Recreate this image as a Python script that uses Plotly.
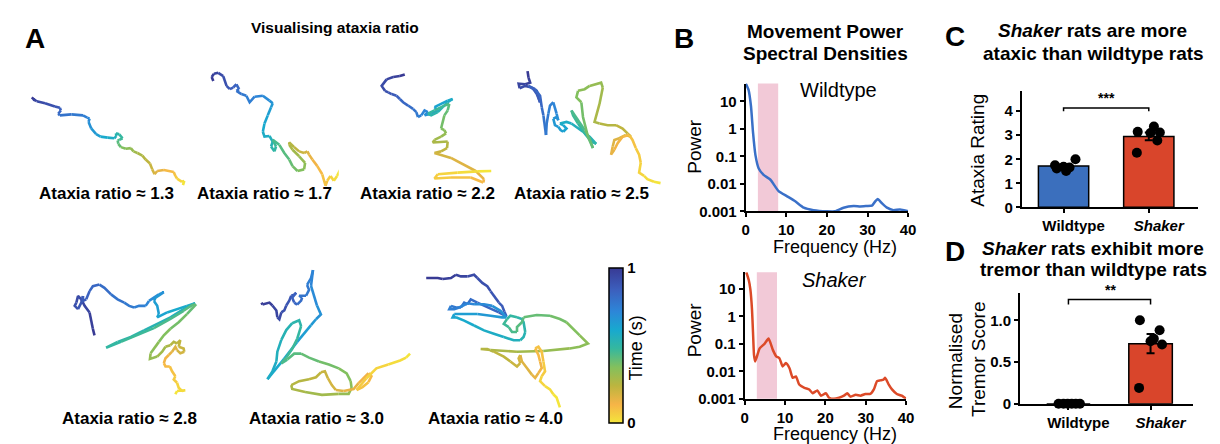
import plotly.graph_objects as go
from plotly.colors import sample_colorscale

FONT = "Liberation Sans, Arial, Helvetica, sans-serif"
W, H = 1220, 444

# ---------------- data ----------------
RATIOS = ["1.3", "1.7", "2.2", "2.5", "2.8", "3.0", "4.0"]

# trajectories (arbitrary tracking units, y grows downward)
T1 = [(60,120),(70,130),(65,125),(75,132),(100,138),(130,148),(145,152),(148,160),(140,170),(145,175),
      (180,172),(215,175),(228,182),(235,185),(232,195),(240,215),(255,232),(268,240),(290,243),(310,245),
      (316,238),(315,230),(325,233),(335,245),(325,250),(320,252),(322,262),(330,272),(345,277),(360,275),
      (368,285),(380,290),(395,298),(405,310),(418,322),(425,340),(432,355),(440,345),(460,342),(490,348),
      (495,360),(500,368),(515,378),(522,375),(518,388)]
T2 = [(610,70),(605,58),(612,48),(625,45),(640,55),(645,70),(650,85),(660,95),(670,90),(680,80),
      (688,95),(680,100),(695,110),(710,115),(720,135),(735,118),(760,115),(780,130),(790,138),(785,150),
      (775,175),(765,200),(760,225),(765,240),(780,238),(790,255),(785,270),(795,285),(800,270),(790,250),
      (810,265),(825,290),(840,310),(850,330),(865,345),(885,340),(888,320),(870,300),(850,280),(840,265),
      (840,258),(855,272),(870,285),(885,290),(895,285),(900,295),(910,310),(925,330),(940,355),(950,390),
      (955,375),(965,360),(975,375),(985,360),(995,340)]
T3 = [(200,50),(185,55),(165,58),(145,65),(130,85),(140,100),(150,105),(160,110),(175,115),(185,125),
      (195,135),(210,145),(225,155),(235,165),(240,180),(250,175),(260,160),(270,165),(260,175),(280,170),
      (300,160),(290,150),(310,140),(330,130),(345,125),(330,135),(315,150),(300,165),(280,175),(270,170),
      (290,160),(320,145),(335,140),(330,160),(320,175),(315,195),(310,215),(320,220),(325,230),(310,240),
      (290,250),(285,258),(330,255),(328,275),(310,285),(290,290),(340,305),(380,325),(415,345),(440,370),
      (438,380),(400,365),(340,365),(290,368),(300,355),(360,350),(420,346),(462,345)]
T4 = [(572,40),(575,60),(580,75),(565,80),(545,78),(548,92),(565,85),(585,90),(600,100),(605,120),
      (610,135),(600,110),(590,95),(575,85),(595,95),(610,115),(615,150),(620,175),(625,210),(628,235),
      (630,200),(635,170),(640,145),(650,135),(655,150),(660,170),(665,190),(660,180),(650,185),(655,205),
      (665,210),(672,220),(680,225),(690,215),(680,205),(670,200),(690,195),(705,200),(720,210),(740,225),
      (760,240),(780,262),(765,255),(745,230),(725,200),(710,175),(705,160),(725,190),(745,220),(760,245),
      (770,275),(755,240),(740,180),(735,135),(720,120),(725,100),(745,95),(760,85),(795,75),(800,90),
      (790,140),(775,195),(790,200),(815,205),(840,205),(860,215),(875,230),(885,240),(870,235),(850,245),
      (835,250),(830,270),(825,295),(835,280),(845,260),(860,240),(880,235),(890,250),(900,275),(910,295),
      (915,320),(910,350),(925,360),(935,370),(955,378),(975,382)]
T5 = [(250,250),(245,230),(240,200),(235,180),(220,160),(210,140),(200,130),(195,150),(190,160),(200,170),
      (210,150),(215,130),(215,145),(225,140),(235,115),(245,100),(265,95),(280,105),(300,125),(320,140),
      (340,150),(355,160),(370,165),(385,160),(405,160),(415,145),(430,135),(445,125),(460,118),(450,125),
      (435,135),(430,145),(440,160),(445,185),(440,195),(470,180),(500,170),(530,160),(555,152),(520,170),
      (480,195),(440,215),(400,235),(360,255),(320,270),(285,288),(330,270),(380,250),(430,228),(480,200),
      (520,175),(550,155),(555,158),(530,185),(505,210),(480,230),(460,250),(445,270),(430,290),(420,305),
      (418,322),(440,315),(455,300),(465,285),(480,280),(490,270),(500,275),(510,265),(505,285),(520,290),
      (522,300),(510,305),(500,295),(495,285),(485,300),(475,310),(465,320),(460,335),(465,345),(478,345),
      (485,360),(495,375),(490,385),(500,395),(505,410),(515,420),(525,418),(500,420),(495,430)]
T6 = [(12,45),(13,47),(20,45),(23,48),(27,53),(28,60),(30,62),(32,55),(35,53),(37,48),
      (40,43),(42,38),(45,37),(47,35),(43,40),(45,45),(48,47),(52,43),(53,40),(50,38),
      (57,38),(60,32),(58,27),(62,20),(64,12),(63,20),(62,28),(65,38),(68,48),(72,57),
      (67,62),(62,68),(55,77),(48,85),(42,93),(35,102),(27,112),(18,123),(23,115),(27,105),
      (28,95),(32,83),(37,73),(43,66),(50,63),(52,69),(48,82),(43,92),(37,101),(32,107),
      (38,103),(45,97),(52,97),(60,101),(70,105),(80,108),(90,112),(98,117),(102,125),(103,132),
      (100,138),(90,138),(73,139),(56,136),(43,133),(42,129),(50,125),(60,123),(67,121),(72,116),
      (76,115),(79,122),(83,129),(87,134),(95,135),(105,133),(110,127),(115,122),(120,117),(123,120),
      (120,126),(114,131),(108,134),(112,129),(118,122),(128,112),(140,108),(152,104),(158,101),(162,97)]
T7 = [(25,75),(60,75),(75,78),(100,75),(115,65),(130,70),(150,70),(170,65),(180,75),(195,90),
      (210,100),(220,115),(235,135),(245,150),(255,160),(262,178),(268,192),(245,180),(225,170),(200,160),
      (180,150),(160,140),(150,155),(140,150),(130,165),(115,165),(100,160),(95,170),(110,170),(125,165),
      (150,152),(170,155),(200,155),(225,160),(250,175),(268,195),(255,195),(220,190),(180,185),(140,185),
      (110,185),(105,195),(115,195),(140,205),(170,220),(200,235),(230,245),(260,255),(290,265),(310,265),
      (320,255),(325,240),(320,210),(315,200),(300,195),(280,190),(270,200),(260,215),(275,225),(285,240),
      (300,240),(300,225),(315,210),(320,195),(360,188),(400,190),(430,200),(450,210),(470,230),(490,250),
      (515,275),(490,285),(460,290),(420,295),(380,298),(340,300),(300,300),(260,298),(220,295),(190,292),
      (210,292),(230,300),(260,315),(280,330),(300,345),(310,335),(305,320),(310,310),(315,330),(330,350),
      (345,370),(355,380),(365,365),(375,350),(370,330),(365,310),(355,290),(365,285),(375,300),(380,330),
      (385,360),(375,375),(370,390),(385,405),(400,415),(410,430),(420,440),(430,470)]

# power spectral densities
WT_FREQ = [0, 0.7, 1.3, 1.8, 2.4, 3.2, 4.4, 6.1, 8.1, 10.2, 12.2, 14.3, 16.7, 20.0, 22.0, 24.1, 26.6,
           28.2, 29.8, 31.1, 31.9, 32.5, 33.5, 34.8, 36.4, 38.0, 40]
WT_POWER = [45, 26, 6.6, 0.74, 0.11, 0.036, 0.021, 0.014, 0.0054, 0.0035, 0.0023, 0.00135, 0.0011,
            0.001, 0.001, 0.00135, 0.00155, 0.0015, 0.00155, 0.0016, 0.0023, 0.0028, 0.002, 0.00135,
            0.0011, 0.00117, 0.001]
SH_FREQ = [0.4, 1.0, 1.4, 1.8, 2.05, 2.3, 2.6, 3.7, 4.9, 5.9, 7.0, 7.8, 8.6, 9.4, 10.2, 11.1, 11.9, 12.7,
           13.5, 14.8, 16.0, 16.8, 18.0, 18.9, 20.1, 20.9, 22.1, 23.4, 24.6, 25.4, 26.2, 27.5, 28.7, 29.9,
           31.1, 32.0, 32.8, 33.6, 34.4, 34.8, 35.7, 36.5, 37.7, 38.9, 40]
SH_POWER = [40, 21, 9.5, 1.8, 0.27, 0.04, 0.023, 0.068, 0.1, 0.155, 0.059, 0.035, 0.03, 0.015, 0.02,
            0.013, 0.0058, 0.0065, 0.0033, 0.0025, 0.0022, 0.0016, 0.002, 0.0013, 0.0016, 0.0011, 0.001,
            0.0011, 0.0013, 0.0016, 0.0012, 0.0014, 0.0013, 0.0015, 0.0015, 0.0022, 0.0044, 0.0047, 0.005,
            0.0058, 0.0033, 0.0022, 0.0015, 0.0013, 0.001]
TREMOR_BAND = [3, 8]

GROUPS = ["Wildtype", "<i>Shaker</i>"]
ATAXIA_WT = [1.75, 1.62, 1.69, 1.51, 1.66, 2.0]
ATAXIA_SH = [3.14, 2.27, 3.09, 3.36, 3.11, 2.78]
ATAXIA_MEAN = [1.72, 2.95]
ATAXIA_SEM = [0.07, 0.16]
TREMOR_WT = [0, 0, 0, 0, 0, 0]
TREMOR_SH = [1.0, 0.88, 0.78, 0.75, 0.71, 0.19]
TREMOR_MEAN = [0.0, 0.72]
TREMOR_SEM = [0.0, 0.115]

# ---------------- styles / layout helpers ----------------
JIT_C_WT = [-0.10, -0.08, 0.0, 0.03, 0.07, 0.14]
JIT_C_SH = [-0.13, -0.14, 0.02, 0.06, 0.13, 0.10]
JIT_D_WT = [-0.12, -0.06, -0.01, 0.04, 0.09, 0.14]
JIT_D_SH = [-0.13, 0.11, 0.04, 0.0, 0.14, -0.14]

BLUE = "#3b6fbd"
RED = "#d9452b"
LINE_BLUE = "#3a70c8"
LINE_RED = "#dc4a28"
PINK = "#f2c9d7"

CSCALE = [[0.0, "#f4e53b"], [0.12, "#f6b447"], [0.24, "#bcb53f"], [0.36, "#83c05d"],
          [0.48, "#35b89e"], [0.60, "#18a9cf"], [0.72, "#2d86d8"], [0.86, "#3c5fbd"],
          [1.0, "#383a94"]]


def X(px):
    return px / W


def Y(py):
    return 1 - py / H


fig = go.Figure()
layout = dict(width=W, height=H, margin=dict(l=0, r=0, t=0, b=0), paper_bgcolor="white",
              plot_bgcolor="white", showlegend=False, font=dict(family=FONT, color="black"))

axis_common = dict(showline=True, linecolor="black", linewidth=2, ticks="outside", ticklen=4,
                   tickwidth=2, tickcolor="black", showgrid=False, zeroline=False, fixedrange=True,
                   tickfont=dict(family=FONT, size=15, color="black"))

bx = [f"<b>{v}</b>" for v in ["0", "10", "20", "30", "40"]]
byv = [0.001, 0.01, 0.1, 1, 10]
byt = [f"<b>{v}</b>" for v in ["0.001", "0.01", "0.1", "1", "10"]]

# B top / bottom
layout["xaxis"] = dict(axis_common, domain=[X(741), X(905)], range=[0, 40], tickvals=[0, 10, 20, 30, 40],
                       ticktext=bx, anchor="y")
layout["yaxis"] = dict(axis_common, domain=[Y(207), Y(77)], type="log", range=[-3, 1.643], tickvals=byv,
                       ticktext=byt, anchor="x")
layout["xaxis2"] = dict(axis_common, domain=[X(740), X(903)], range=[0, 40], tickvals=[0, 10, 20, 30, 40],
                        ticktext=bx, anchor="y2")
layout["yaxis2"] = dict(axis_common, domain=[Y(398), Y(269)], type="log", range=[-3, 1.607], tickvals=byv,
                        ticktext=byt, anchor="x2")
# C
layout["xaxis3"] = dict(axis_common, domain=[X(1020), X(1198)], range=[-0.488, 1.58], tickvals=[0, 1],
                        ticktext=[f"<b>{g}</b>" for g in GROUPS], anchor="y3",
                        ticklabelshift=10)
layout["yaxis3"] = dict(axis_common, domain=[Y(203), Y(85)], range=[0, 4.82], tickvals=[0, 1, 2, 3, 4],
                        ticktext=[f"<b>{v}</b>" for v in range(5)], anchor="x3")
# D
layout["xaxis4"] = dict(axis_common, domain=[X(1018), X(1193)], range=[-0.59, 1.52], tickvals=[0, 1],
                        ticktext=[f"<b>{g}</b>" for g in GROUPS], anchor="y4",
                        ticklabelshift=10)
layout["yaxis4"] = dict(axis_common, domain=[Y(403), Y(290)], range=[0, 1.33], tickvals=[0, 0.5, 1],
                        ticktext=["<b>0</b>", "<b>0.5</b>", "<b>1.0</b>"], anchor="x4")

# trajectory frames: (axis index, box in px, x-range, y-range)
FRAMES = [
    (5, (0, 51, 340, 191), [0, 1020], [420, 0]),
    (6, (330, 51, 660, 191), [0, 990], [420, 0]),
    (7, (0, 250, 340, 440), [0, 1020], [570, 0]),
    (8, (240, 255, 420, 405), [0, 180], [150, 0]),
    (9, (410, 250, 630, 440), [0, 660], [570, 0]),
]
for idx, (x0, y0, x1, y1), xr, yr in FRAMES:
    layout[f"xaxis{idx}"] = dict(domain=[X(x0), X(x1)], range=xr, visible=False, fixedrange=True,
                                 anchor=f"y{idx}")
    layout[f"yaxis{idx}"] = dict(domain=[Y(y1), Y(y0)], range=yr, visible=False, fixedrange=True,
                                 anchor=f"x{idx}")

TRAJ_FRAME = [(T1, 5), (T2, 5), (T3, 6), (T4, 6), (T5, 7), (T6, 8), (T7, 9)]

LEVELS = 48
for pts, ax in TRAJ_FRAME:
    n = len(pts)
    groups = {}
    last = {}
    for i in range(n - 1):
        t = 1 - i / (n - 2)
        lvl = round(t * (LEVELS - 1))
        gx, gy = groups.setdefault(lvl, ([], []))
        if last.get(lvl) == i:
            gx.append(pts[i + 1][0]); gy.append(pts[i + 1][1])
        else:
            if gx:
                gx.append(None); gy.append(None)
            gx += [pts[i][0], pts[i + 1][0]]
            gy += [pts[i][1], pts[i + 1][1]]
        last[lvl] = i + 1
    for lvl, (gx, gy) in groups.items():
        col = sample_colorscale(CSCALE, [lvl / (LEVELS - 1)])[0]
        fig.add_trace(go.Scatter(x=gx, y=gy, mode="lines", line=dict(color=col, width=2.6),
                                 hoverinfo="skip", xaxis=f"x{ax}", yaxis=f"y{ax}"))

# colorbar
fig.add_trace(go.Scatter(x=[None, None], y=[None, None], mode="markers", xaxis="x9", yaxis="y9",
                         marker=dict(color=[0, 1], cmin=0, cmax=1, colorscale=CSCALE, showscale=True,
                                     colorbar=dict(x=X(603), xanchor="left", y=Y(265), yanchor="top",
                                                   len=158 / H, lenmode="fraction", thickness=14,
                                                   thicknessmode="pixels", outlinewidth=1.5,
                                                   outlinecolor="black", tickvals=[0, 1],
                                                   ticktext=["<b>0</b>", "<b>1</b>"], ticks="",
                                                   tickfont=dict(family=FONT, size=15, color="black"),
                                                   xpad=0, ypad=0)),
                         hoverinfo="skip"))

# B spectra
for xa, ya in [("x", "y"), ("x2", "y2")]:
    fig.add_shape(type="rect", xref=xa, yref=f"{ya} domain", x0=TREMOR_BAND[0], x1=TREMOR_BAND[1],
                  y0=0, y1=1, fillcolor=PINK, line_width=0, layer="below")
fig.add_trace(go.Scatter(x=WT_FREQ, y=WT_POWER, mode="lines", line=dict(color=LINE_BLUE, width=2.5,
                         shape="spline", smoothing=0.5), xaxis="x", yaxis="y", hoverinfo="skip"))
fig.add_trace(go.Scatter(x=SH_FREQ, y=SH_POWER, mode="lines", line=dict(color=LINE_RED, width=2.5,
                         shape="spline", smoothing=0.5), xaxis="x2", yaxis="y2", hoverinfo="skip"))

# C bars
fig.add_trace(go.Bar(x=[0, 1], y=ATAXIA_MEAN, width=[0.59, 0.59], marker=dict(color=[BLUE, RED],
                     line=dict(color="black", width=1.5)), xaxis="x3", yaxis="y3", hoverinfo="skip"))
fig.add_trace(go.Scatter(x=[0 + j for j in JIT_C_WT] + [1 + j for j in JIT_C_SH], y=ATAXIA_WT + ATAXIA_SH,
                         mode="markers", marker=dict(color="black", size=10), xaxis="x3", yaxis="y3",
                         hoverinfo="skip"))
fig.add_trace(go.Scatter(x=[0, 1], y=ATAXIA_MEAN, mode="markers", marker=dict(size=1, color="rgba(0,0,0,0)"),
                         error_y=dict(type="data", array=ATAXIA_SEM, color="black", thickness=2, width=4),
                         xaxis="x3", yaxis="y3", hoverinfo="skip"))
fig.add_trace(go.Scatter(x=[0, 0, 1, 1], y=[4.0, 4.13, 4.13, 4.0], mode="lines",
                         line=dict(color="black", width=1.5), xaxis="x3", yaxis="y3", hoverinfo="skip"))

# D bars
fig.add_trace(go.Bar(x=[0, 1], y=TREMOR_MEAN, width=[0.53, 0.53], marker=dict(color=[BLUE, RED],
                     line=dict(color="black", width=1.5)), xaxis="x4", yaxis="y4", hoverinfo="skip"))
fig.add_trace(go.Scatter(x=[0 + j for j in JIT_D_WT] + [1 + j for j in JIT_D_SH], y=TREMOR_WT + TREMOR_SH,
                         mode="markers", marker=dict(color="black", size=10), xaxis="x4", yaxis="y4",
                         cliponaxis=False, hoverinfo="skip"))
fig.add_trace(go.Scatter(x=[1], y=[TREMOR_MEAN[1]], mode="markers", marker=dict(size=1, color="rgba(0,0,0,0)"),
                         error_y=dict(type="data", array=[TREMOR_SEM[1]], color="black", thickness=2, width=4),
                         xaxis="x4", yaxis="y4", hoverinfo="skip"))
fig.add_trace(go.Scatter(x=[0, 0, 1, 1], y=[1.19, 1.25, 1.25, 1.19], mode="lines",
                         line=dict(color="black", width=1.5), xaxis="x4", yaxis="y4", hoverinfo="skip"))

fig.update_layout(**layout)


def txt(s, x, y, size, angle=0, xanchor="center", ref=("paper", "paper")):
    fig.add_annotation(text=s, x=x, y=y, xref=ref[0], yref=ref[1], showarrow=False, textangle=angle,
                       xanchor=xanchor, yanchor="middle",
                       font=dict(family=FONT, size=size, color="black"))


# panel letters
txt("<b>A</b>", X(23), Y(31), 28)
txt("<b>B</b>", X(679), Y(31), 28)
txt("<b>C</b>", X(952), Y(29), 28)
txt("<b>D</b>", X(952), Y(248), 28)

# titles
txt("<b>Visualising ataxia ratio</b>", X(326), Y(20), 15.5)
txt("<b>Movement Power</b>", X(822), Y(24), 19)
txt("<b>Spectral Densities</b>", X(822), Y(46), 19)
txt("<b><i>Shaker</i> rats are more</b>", X(1091), Y(23), 19)
txt("<b>ataxic than wildtype rats</b>", X(1092), Y(46), 19)
txt("<b><i>Shaker</i> rats exhibit more</b>", X(1092), Y(245), 19)
txt("<b>tremor than wildtype rats</b>", X(1092), Y(266), 19)

# ratio labels
LABEL_POS = [(95, 189), (255, 189), (420, 189), (575, 189), (119, 418), (308, 418), (488, 418)]
for r, (lx, ly) in zip(RATIOS, LABEL_POS):
    txt(f"<b>Ataxia ratio ≈ {r}</b>", X(lx), Y(ly), 17)

txt("Time (s)", X(630), Y(346), 18, angle=-90)

# B labels
txt("Wildtype", X(835), Y(84), 20)
txt("<i>Shaker</i>", X(831), Y(277), 20)
txt("Power", X(689), Y(141), 19, angle=-90)
txt("Power", X(689), Y(328), 19, angle=-90)
txt("Frequency (Hz)", X(831), Y(243), 18)
txt("Frequency (Hz)", X(831), Y(434), 18)

# C / D labels
txt("Ataxia Rating", X(975), Y(145), 19, angle=-90)
txt("Normalised", X(953), Y(360), 19, angle=-90)
txt("Tremor Score", X(976), Y(358), 19, angle=-90)
txt("<b>***</b>", 0.5, 4.55, 14, ref=("x3", "y3"))
txt("<b>**</b>", X(1109), Y(287), 14)

fig.write_html("out.html")
